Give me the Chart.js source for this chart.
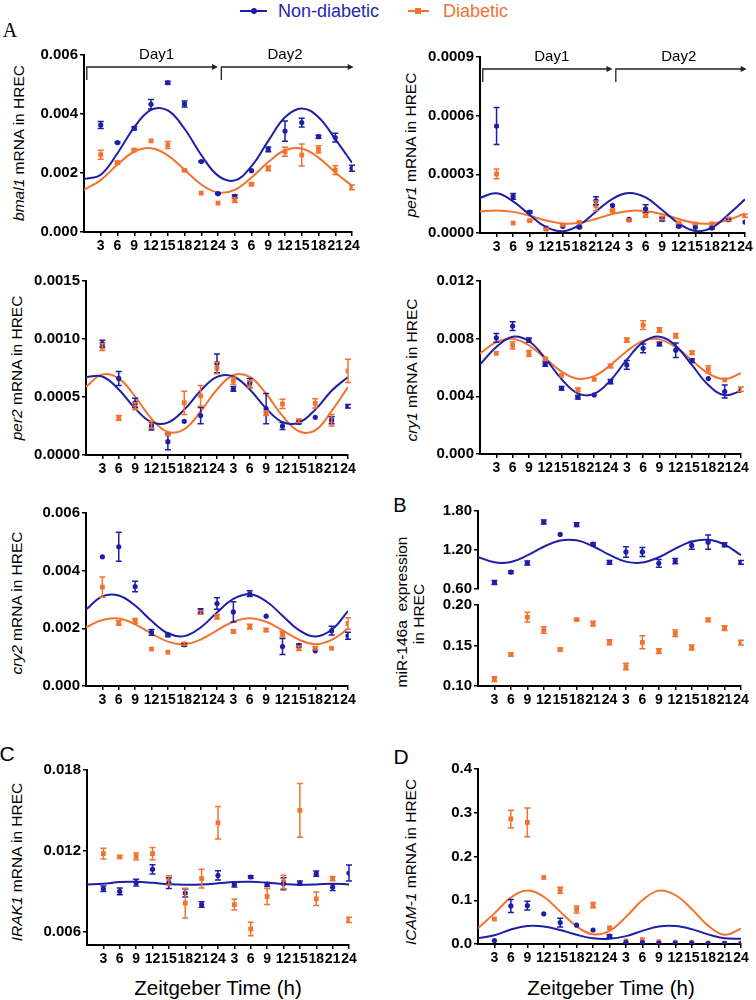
<!DOCTYPE html>
<html>
<head>
<meta charset="utf-8">
<script src="https://cdn.jsdelivr.net/npm/chart.js@4.4.1/dist/chart.umd.min.js"></script>
<style>
  body { margin: 0; background: #fff; }
  #fig { position: relative; width: 756px; height: 1000px; overflow: hidden; font-family: "Liberation Sans", Arial, sans-serif; }
  #fig canvas { position: absolute; }
  .lbl { position: absolute; white-space: nowrap; line-height: 1; transform: translate(-50%, -50%); }
  .ytitle { position: absolute; white-space: nowrap; line-height: 1; font-size: 15.5px; transform: translate(-50%, -50%) rotate(-90deg); }
  .leg { position: absolute; white-space: nowrap; line-height: 1; font-size: 18px; transform: translateY(-50%); }
  .legline { position: absolute; height: 2px; }
  .legdot { position: absolute; }
</style>
</head>
<body>
<div id="fig">
  <div class="legline" style="left:240px; top:10px; width:27px; background:#1e1ea6"></div>
  <div class="legdot" style="left:251px; top:8px; width:6px; height:6px; border-radius:3px; background:#1e1ea6"></div>
  <div class="leg" style="left:278px; top:11px; color:#2626b0">Non-diabetic</div>
  <div class="legline" style="left:408px; top:10px; width:21px; background:#f27330"></div>
  <div class="legdot" style="left:415px; top:8px; width:6px; height:6px; background:#f27330"></div>
  <div class="leg" style="left:443px; top:11px; color:#f27330">Diabetic</div>

  <div class="lbl" style="left:10px; top:30px; font-size:20px; font-family:'Liberation Serif','Times New Roman',serif">A</div>
  <div class="lbl" style="left:400px; top:505px; font-size:20px">B</div>
  <div class="lbl" style="left:7px; top:753px; font-size:21px">C</div>
  <div class="lbl" style="left:401px; top:756px; font-size:21px">D</div>

  <div class="ytitle" style="left:19px; top:143px"><i>bmal1</i> mRNA in HREC</div>
  <div class="ytitle" style="left:411px; top:145px"><i>per1</i> mRNA in HREC</div>
  <div class="ytitle" style="left:17px; top:368px"><i>per2</i> mRNA in HREC</div>
  <div class="ytitle" style="left:412px; top:370px"><i>cry1</i> mRNA in HREC</div>
  <div class="ytitle" style="left:17px; top:603px"><i>cry2</i> mRNA in HREC</div>
  <div class="ytitle" style="left:402px; top:612px">miR-146a&nbsp; expression</div>
  <div class="ytitle" style="left:419px; top:614px">in HREC</div>
  <div class="ytitle" style="left:17px; top:862px"><i>IRAK1</i> mRNA in HREC</div>
  <div class="ytitle" style="left:411px; top:862px"><i>ICAM-1</i> mRNA in HREC</div>

  <div class="lbl" style="left:218px; top:988px; font-size:20.5px">Zeitgeber Time (h)</div>
  <div class="lbl" style="left:611px; top:988px; font-size:20.5px">Zeitgeber Time (h)</div>
</div>
<script>
// Sampling times (hours over two days) and their tick labels
const sampleHours = [3, 6, 9, 12, 15, 18, 21, 24, 27, 30, 33, 36, 39, 42, 45, 48];
const hourLabels = ['3', '6', '9', '12', '15', '18', '21', '24', '3', '6', '9', '12', '15', '18', '21', '24'];
const curveHours = [0, 3, 6, 9, 12, 15, 18, 21, 24, 27, 30, 33, 36, 39, 42, 45, 48];

const dayNames = ['Day1', 'Day2'];
const dayStarts = [0.5, 24.6];
const dayEnds = [24, 48.3];
const dayLabelHours = [13, 36];

// bmal1
const bmal1Ticks = [0, 0.002, 0.004, 0.006];
const bmal1Blue = [0.00363, 0.00303, 0.00352, 0.00433, 0.00506, 0.00434, 0.00239, 0.00130, 0.00121, 0.00208, 0.00280, 0.00342, 0.00371, 0.00323, 0.00320, 0.00216];
const bmal1BlueErr = [0.00012, 0.00003, 0.00005, 0.00016, 0.00005, 0.0001, 0.00002, 0.00002, 0.00005, 0, 0.00008, 0.00034, 0.00015, 0.00005, 0.00015, 0.0001];
const bmal1Orange = [0.00262, 0.00235, 0.00278, 0.00309, 0.00295, 0.00209, 0.00132, 0.00098, 0.00108, 0.00162, 0.00216, 0.00272, 0.00261, 0.00280, 0.00210, 0.00151];
const bmal1OrangeErr = [0.00015, 0.00005, 0.00003, 0, 0.00012, 0.00002, 0, 0, 0.00008, 0.00004, 0.00008, 0.00015, 0.00037, 0.00012, 0.00015, 0.00008];
const bmal1BlueFit = [0.00180, 0.00194, 0.00267, 0.00355, 0.00414, 0.00412, 0.00350, 0.00261, 0.00191, 0.00175, 0.00223, 0.00309, 0.00389, 0.00419, 0.00389, 0.00315, 0.00235];
const bmal1OrangeFit = [0.00143, 0.00176, 0.00229, 0.00272, 0.00284, 0.00260, 0.00211, 0.00161, 0.00134, 0.00143, 0.00185, 0.00237, 0.00277, 0.00283, 0.00252, 0.00202, 0.00157];

// per1
const per1Ticks = [0, 0.0003, 0.0006, 0.0009];
const per1Blue = [0.000547, 0.000187, 0.000107, 0.000025, 0.000034, 0.000030, 0.000165, 0.000141, 0.000070, 0.000124, 0.000071, 0.000034, 0.000029, 0.000025, 0.000068, 0.000056];
const per1BlueErr = [0.000095, 0.000015, 0.000005, 0, 0, 0.000005, 0.00002, 0, 0, 0.00002, 0.00001, 0.000005, 0, 0.000005, 0.000005, 0];
const per1Orange = [0.000302, 0.000051, 0.000063, 0.000020, 0.000039, 0.000054, 0.000139, 0.000115, 0.000066, 0.000090, 0.000076, 0.000051, 0.000046, 0.000047, 0.000071, 0.000088];
const per1OrangeErr = [0.000025, 0, 0.000003, 0.000004, 0.000004, 0.000003, 0.000025, 0.000005, 0.000005, 0.00001, 0.000008, 0.000003, 0.000003, 0.000003, 0.000008, 0.000008];
const per1BlueFit = [0.000180, 0.000203, 0.000162, 0.000092, 0.000030, 0.000009, 0.000041, 0.000109, 0.000175, 0.000205, 0.000182, 0.000118, 0.000049, 0.000010, 0.000028, 0.000095, 0.000172];
const per1OrangeFit = [0.000110, 0.000115, 0.000108, 0.000088, 0.000064, 0.000048, 0.000052, 0.000072, 0.000097, 0.000113, 0.000112, 0.000096, 0.000072, 0.000051, 0.000049, 0.000067, 0.000100];

// per2
const per2Ticks = [0, 0.0005, 0.0010, 0.0015];
const per2Blue = [0.00096, 0.00066, 0.00045, 0.00025, 0.000115, 0.00029, 0.00034, 0.00079, 0.00057, 0.00062, 0.00040, 0.00025, 0.00028, 0.000325, 0.00030, 0.00042];
const per2BlueErr = [0.00003, 0.00006, 0.00004, 0.000035, 0.00007, 0, 0.00007, 0.00008, 0.00002, 0.00004, 0.00013, 0.00003, 0.00001, 0, 0.00003, 0.000015];
const per2Orange = [0.00093, 0.00032, 0.00042, 0.00026, 0.00018, 0.00045, 0.00051, 0.00075, 0.00064, 0.00061, 0.00036, 0.00044, 0.000295, 0.000445, 0.00030, 0.000725];
const per2OrangeErr = [0.00003, 0.00002, 0.00003, 0.00003, 0.00001, 0.0001, 0.00009, 0.00005, 0.00003, 0.00003, 0.00002, 0.00004, 0.000015, 0.00004, 0.00005, 0.0001];
const per2BlueFit = [0.000673, 0.000677, 0.000565, 0.000402, 0.000283, 0.000279, 0.000391, 0.000554, 0.000673, 0.000677, 0.000565, 0.000402, 0.000283, 0.000279, 0.000391, 0.000554, 0.000673];
const per2OrangeFit = [0.000588, 0.000695, 0.000660, 0.000504, 0.000314, 0.000199, 0.000222, 0.000375, 0.000565, 0.000688, 0.000673, 0.000528, 0.000337, 0.000205, 0.000212, 0.000380, 0.000585];

// cry1
const cry1Ticks = [0, 0.004, 0.008, 0.012];
const cry1Blue = [0.00806, 0.00887, 0.0079, 0.00624, 0.00456, 0.00394, 0.0041, 0.00502, 0.00618, 0.00733, 0.00763, 0.0072, 0.00647, 0.00523, 0.00433, 0.0044];
const cry1BlueErr = [0.0003, 0.0003, 0.00015, 0.00015, 0.00012, 0.00012, 0, 0.00015, 0.0003, 0.0003, 0.00012, 0.0005, 0.00012, 0, 0.00045, 0];
const cry1Orange = [0.00698, 0.00753, 0.00698, 0.00659, 0.00546, 0.00445, 0.00518, 0.0061, 0.0079, 0.00894, 0.0086, 0.0082, 0.00703, 0.00588, 0.00514, 0.00449];
const cry1OrangeErr = [0, 0.00025, 0.0002, 0.0001, 0, 0.00012, 0, 0.00012, 0.00015, 0.0003, 0.00015, 0.00015, 0.00012, 0.00025, 0, 0.00015];
const cry1BlueFit = [0.0062, 0.00742, 0.00813, 0.00782, 0.00664, 0.00519, 0.0042, 0.00417, 0.00511, 0.00654, 0.00776, 0.00814, 0.0075, 0.00616, 0.00478, 0.00408, 0.00438];
const cry1OrangeFit = [0.00697, 0.00776, 0.00799, 0.00754, 0.00664, 0.00572, 0.00522, 0.0054, 0.00617, 0.00713, 0.00785, 0.00795, 0.0074, 0.00649, 0.00559, 0.0052, 0.0056];

// cry2
const cry2Ticks = [0, 0.002, 0.004, 0.006];
const cry2Blue = [0.00448, 0.00483, 0.00345, 0.00186, 0.00177, 0.00143, 0.0026, 0.00286, 0.00257, 0.0032, 0.00242, 0.00137, 0.00141, 0.00122, 0.00192, 0.00174];
const cry2BlueErr = [0, 0.0005, 0.00018, 0.0001, 0.00005, 0.00005, 0.00008, 0.0002, 0.00035, 0.0001, 0, 0.00028, 0.00005, 0, 0.00015, 0.00012];
const cry2Orange = [0.00343, 0.00219, 0.00226, 0.00128, 0.00117, 0.00146, 0.00255, 0.0024, 0.00189, 0.00206, 0.00194, 0.0018, 0.00131, 0.00131, 0.00131, 0.00217];
const cry2OrangeErr = [0.00035, 0.00008, 0.00008, 0, 0, 0.00005, 0.00006, 0.00008, 0.00005, 0.00008, 0.00005, 0.0001, 0.00008, 0.00005, 0, 0.0002];
const cry2BlueFit = [0.00265, 0.00311, 0.00314, 0.00279, 0.00226, 0.00183, 0.00173, 0.00203, 0.00255, 0.00302, 0.00318, 0.00294, 0.00244, 0.00194, 0.00172, 0.00195, 0.0026];
const cry2OrangeFit = [0.00204, 0.00229, 0.00234, 0.00214, 0.00182, 0.00154, 0.00145, 0.00161, 0.00193, 0.00223, 0.00235, 0.00223, 0.00193, 0.00161, 0.00145, 0.0016, 0.00198];

// miR-146a (split axis: non-diabetic above, diabetic below)
const mirUpperTicks = [0.6, 1.2, 1.8];
const mirLowerTicks = [0.10, 0.15, 0.20];
const mirBlue = [0.70, 0.86, 1.0, 1.63, 1.44, 1.59, 1.29, 1.01, 1.17, 1.17, 0.995, 1.03, 1.27, 1.32, 1.28, 1.01];
const mirBlueErr = [0.03, 0.02, 0.03, 0.03, 0, 0.03, 0.02, 0.03, 0.08, 0.07, 0.06, 0.04, 0.06, 0.11, 0.03, 0.03];
const mirOrange = [0.1085, 0.139, 0.185, 0.169, 0.145, 0.182, 0.177, 0.154, 0.124, 0.154, 0.143, 0.165, 0.1475, 0.1815, 0.1715, 0.1535];
const mirOrangeErr = [0.003, 0.002, 0.006, 0.004, 0.002, 0.001, 0.003, 0.003, 0.004, 0.008, 0.003, 0.004, 0.003, 0.002, 0.003, 0.003];
const mirBlueFit = [1.095, 1.01, 1.016, 1.116, 1.25, 1.345, 1.349, 1.258, 1.124, 1.021, 1.007, 1.089, 1.22, 1.33, 1.357, 1.283, 1.12];

// IRAK1
const irakTicks = [0.006, 0.012, 0.018];
const irakBlue = [0.00918, 0.00898, 0.00963, 0.01062, 0.0096, 0.00886, 0.00801, 0.01017, 0.0095, 0.01005, 0.0095, 0.00955, 0.0096, 0.0103, 0.0093, 0.01035];
const irakBlueErr = [0.0002, 0.00025, 0.00025, 0.00035, 0.0004, 0.0003, 0.0002, 0.00035, 0.0002, 0.0001, 0.00015, 0.00045, 0.00015, 0.0002, 0.00025, 0.0006];
const irakOrange = [0.01179, 0.01154, 0.01159, 0.01179, 0.0098, 0.00811, 0.00993, 0.01408, 0.008, 0.00619, 0.0086, 0.00968, 0.015, 0.00843, 0.00993, 0.00687];
const irakOrangeErr = [0.0004, 0.0001, 0.00025, 0.00045, 0.00035, 0.0011, 0.0007, 0.0012, 0.0004, 0.0005, 0.0006, 0.0005, 0.002, 0.0005, 0.00015, 0.0002];
const irakBlueFit = [0.0095, 0.00955, 0.00968, 0.0097, 0.00962, 0.00952, 0.00948, 0.0095, 0.00958, 0.00968, 0.0097, 0.00963, 0.00953, 0.00948, 0.0095, 0.00955, 0.0095];

// ICAM-1
const icamTicks = [0, 0.1, 0.2, 0.3, 0.4];
const icamBlue = [0.008, 0.087, 0.088, 0.069, 0.049, 0.043, 0.032, 0.018, 0.004, 0.003, 0.002, 0.002, 0.002, 0.001, 0.001, 0.001];
const icamBlueErr = [0, 0.015, 0.01, 0, 0.01, 0, 0, 0.003, 0, 0, 0, 0, 0, 0, 0, 0];
const icamOrange = [0.057, 0.286, 0.278, 0.152, 0.123, 0.079, 0.089, 0.037, 0.007, 0.01, 0.005, 0.004, 0.004, 0.002, 0.002, 0.002];
const icamOrangeErr = [0, 0.02, 0.033, 0, 0.007, 0.008, 0.006, 0, 0, 0, 0, 0, 0, 0, 0, 0];
const icamBlueFit = [0.013, 0.02, 0.033, 0.041, 0.04, 0.032, 0.021, 0.013, 0.012, 0.018, 0.03, 0.04, 0.041, 0.034, 0.022, 0.013, 0.012];
const icamOrangeFit = [0.036, 0.07, 0.106, 0.122, 0.108, 0.074, 0.04, 0.022, 0.03, 0.062, 0.1, 0.122, 0.112, 0.08, 0.042, 0.021, 0.035];

const BLUE = '#1e1ea6';
const ORANGE = '#f27330';
const FONT = '"Liberation Sans", Arial, sans-serif';
Chart.defaults.font.family = FONT;

// Draws mean +/- SEM bars for datasets that carry an "errors" array
const errorBars = {
    id: 'errorBars',
    afterDatasetsDraw(chart) {
        const ctx = chart.ctx;
        const ys = chart.scales.y;
        chart.data.datasets.forEach((ds, di) => {
            if (!ds.errors) return;
            const meta = chart.getDatasetMeta(di);
            ctx.save();
            ctx.strokeStyle = ds.borderColor;
            ctx.lineWidth = 1.5;
            meta.data.forEach((pt, i) => {
                const e = ds.errors[i];
                if (!e) return;
                const v = ds.data[i].y;
                const y1 = ys.getPixelForValue(v + e);
                const y2 = ys.getPixelForValue(v - e);
                ctx.beginPath();
                ctx.moveTo(pt.x, y1); ctx.lineTo(pt.x, y2);
                ctx.moveTo(pt.x - 3, y1); ctx.lineTo(pt.x + 3, y1);
                ctx.moveTo(pt.x - 3, y2); ctx.lineTo(pt.x + 3, y2);
                ctx.stroke();
            });
            ctx.restore();
        });
    }
};

// Day1 / Day2 brackets above the first two panels
const dayArrows = {
    id: 'dayArrows',
    afterDraw(chart, args, opts) {
        if (!opts.show) return;
        const ctx = chart.ctx;
        const xs = chart.scales.x;
        const top = chart.chartArea.top;
        ctx.save();
        ctx.strokeStyle = '#222';
        ctx.fillStyle = '#222';
        ctx.lineWidth = 1.3;
        dayNames.forEach((name, k) => {
            const x0 = xs.getPixelForValue(dayStarts[k]);
            const x1 = xs.getPixelForValue(dayEnds[k]);
            const ya = top + 12;
            ctx.beginPath();
            ctx.moveTo(x0, top + 25);
            ctx.lineTo(x0, ya);
            ctx.lineTo(x1 - 4, ya);
            ctx.stroke();
            ctx.beginPath();
            ctx.moveTo(x1, ya);
            ctx.lineTo(x1 - 6, ya - 3);
            ctx.lineTo(x1 - 6, ya + 3);
            ctx.closePath();
            ctx.fill();
            ctx.fillStyle = '#000';
            ctx.font = '15px ' + FONT;
            ctx.textAlign = 'center';
            ctx.textBaseline = 'middle';
            ctx.fillText(name, xs.getPixelForValue(dayLabelHours[k]), top);
            ctx.fillStyle = '#222';
        });
        ctx.restore();
    }
};

const fig = document.getElementById('fig');

function pointSet(values, errors, color, style) {
    return {
        data: sampleHours.map((h, i) => ({ x: h, y: values[i] })),
        errors: errors,
        showLine: false,
        pointStyle: style,
        pointRadius: style === 'rect' ? 3.4 : 2.6,
        backgroundColor: color,
        borderColor: color,
        borderWidth: 0
    };
}

function fitLine(values, color) {
    return {
        data: curveHours.map((h, i) => ({ x: h, y: values[i] })),
        borderColor: color,
        borderWidth: 2,
        pointRadius: 0,
        tension: 0.4,
        fill: false
    };
}

// area = [left, right, top, bottom] of the plot area in page pixels
function makePanel(area, yTicks, decimals, datasets, opts) {
    opts = opts || {};
    const YW = 62, PT = 16, PR = 14;
    const XH = opts.noX ? 0 : 24;
    const PB = opts.noX ? 8 : 0;
    const canvas = document.createElement('canvas');
    canvas.width = area[1] - area[0] + YW + PR;
    canvas.height = area[3] - area[2] + PT + XH + PB;
    canvas.style.left = (area[0] - YW) + 'px';
    canvas.style.top = (area[2] - PT) + 'px';
    fig.appendChild(canvas);

    return new Chart(canvas.getContext('2d'), {
        type: 'line',
        data: { datasets: datasets },
        options: {
            responsive: false,
            animation: false,
            devicePixelRatio: 1,
            events: [],
            layout: { padding: { top: PT, right: PR, left: 0, bottom: PB } },
            plugins: {
                legend: { display: false },
                tooltip: { enabled: false },
                dayArrows: { show: !!opts.days }
            },
            scales: {
                x: {
                    type: 'linear',
                    display: !opts.noX,
                    min: 0,
                    max: 48,
                    afterBuildTicks: s => { s.ticks = sampleHours.map(v => ({ value: v })); },
                    afterFit: s => { s.height = XH; },
                    ticks: {
                        autoSkip: false,
                        maxRotation: 0,
                        color: '#000',
                        padding: 2,
                        font: { size: 14, weight: 'bold' },
                        callback: (v, i) => hourLabels[i]
                    },
                    grid: { drawOnChartArea: false, drawTicks: true, tickLength: 4, color: '#000', lineWidth: 1.5 },
                    border: { color: '#000', width: 2 }
                },
                y: {
                    min: opts.min !== undefined ? opts.min : yTicks[0],
                    max: yTicks[yTicks.length - 1],
                    afterBuildTicks: s => { s.ticks = yTicks.map(v => ({ value: v })); },
                    afterFit: s => { s.width = YW; },
                    ticks: {
                        color: '#000',
                        padding: 2,
                        font: { size: 15, weight: 'bold' },
                        callback: v => v.toFixed(decimals)
                    },
                    grid: { drawOnChartArea: false, drawTicks: true, tickLength: 4, color: '#000', lineWidth: 1.5 },
                    border: { color: '#000', width: 2 }
                }
            }
        },
        plugins: [errorBars, dayArrows]
    });
}

// Panel A: clock genes
makePanel([84, 352, 55, 232], bmal1Ticks, 3, [
    pointSet(bmal1Blue, bmal1BlueErr, BLUE, 'circle'),
    pointSet(bmal1Orange, bmal1OrangeErr, ORANGE, 'rect'),
    fitLine(bmal1BlueFit, BLUE),
    fitLine(bmal1OrangeFit, ORANGE)
], { days: true });

makePanel([480, 745, 57, 233], per1Ticks, 4, [
    pointSet(per1Blue, per1BlueErr, BLUE, 'circle'),
    pointSet(per1Orange, per1OrangeErr, ORANGE, 'rect'),
    fitLine(per1BlueFit, BLUE),
    fitLine(per1OrangeFit, ORANGE)
], { days: true });

makePanel([86, 348, 281, 455], per2Ticks, 4, [
    pointSet(per2Blue, per2BlueErr, BLUE, 'circle'),
    pointSet(per2Orange, per2OrangeErr, ORANGE, 'rect'),
    fitLine(per2BlueFit, BLUE),
    fitLine(per2OrangeFit, ORANGE)
]);

makePanel([480, 741, 281, 454], cry1Ticks, 3, [
    pointSet(cry1Blue, cry1BlueErr, BLUE, 'circle'),
    pointSet(cry1Orange, cry1OrangeErr, ORANGE, 'rect'),
    fitLine(cry1BlueFit, BLUE),
    fitLine(cry1OrangeFit, ORANGE)
]);

makePanel([86, 348, 513, 686], cry2Ticks, 3, [
    pointSet(cry2Blue, cry2BlueErr, BLUE, 'circle'),
    pointSet(cry2Orange, cry2OrangeErr, ORANGE, 'rect'),
    fitLine(cry2BlueFit, BLUE),
    fitLine(cry2OrangeFit, ORANGE)
]);

// Panel B: miR-146a with a broken y axis
makePanel([478, 741, 511, 592], mirUpperTicks, 2, [
    pointSet(mirBlue, mirBlueErr, BLUE, 'circle'),
    fitLine(mirBlueFit, BLUE)
], { noX: true });

makePanel([478, 741, 605, 686], mirLowerTicks, 2, [
    pointSet(mirOrange, mirOrangeErr, ORANGE, 'rect')
]);

// Panel C: IRAK1
makePanel([87, 349, 770, 945], irakTicks, 3, [
    pointSet(irakBlue, irakBlueErr, BLUE, 'circle'),
    pointSet(irakOrange, irakOrangeErr, ORANGE, 'rect'),
    fitLine(irakBlueFit, BLUE)
], { min: 0.005 });

// Panel D: ICAM-1
makePanel([478, 741, 769, 944], icamTicks, 1, [
    pointSet(icamBlue, icamBlueErr, BLUE, 'circle'),
    pointSet(icamOrange, icamOrangeErr, ORANGE, 'rect'),
    fitLine(icamBlueFit, BLUE),
    fitLine(icamOrangeFit, ORANGE)
]);
</script>
</body>
</html>
